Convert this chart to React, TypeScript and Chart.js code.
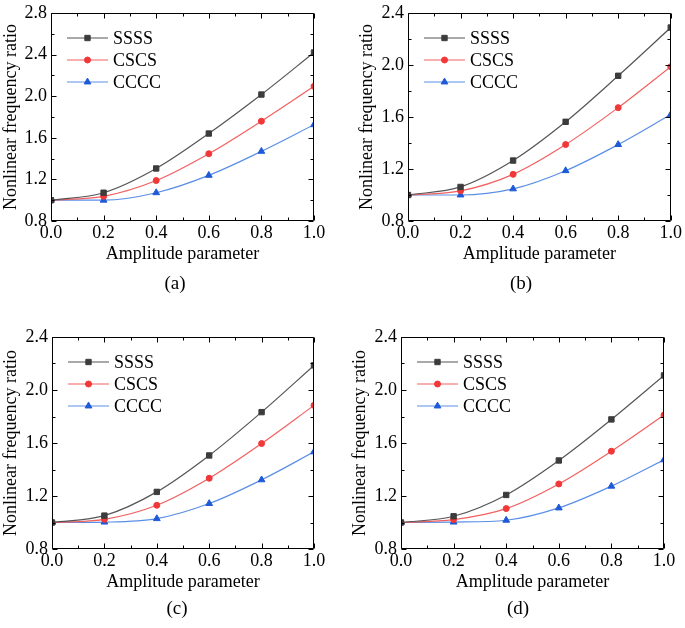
import React, { useEffect, useRef } from 'react';
import { Chart, registerables } from 'chart.js';
import { drawPoint } from 'chart.js/helpers';

Chart.register(...registerables);

// ---------- data ----------
const amplitude = [0, 0.2, 0.4, 0.6, 0.8, 1.0];
const seriesLabels = ['SSSS', 'CSCS', 'CCCC'];
const xTickValues = [0, 0.2, 0.4, 0.6, 0.8, 1.0];
const yTicksA = [0.8, 1.2, 1.6, 2.0, 2.4, 2.8];
const yTicksBCD = [0.8, 1.2, 1.6, 2.0, 2.4];
const panelLabels = ['(a)', '(b)', '(c)', '(d)'];

const ssssA = [1.0, 1.072, 1.305, 1.641, 2.016, 2.42];
const cscsA = [1.0, 1.037, 1.189, 1.447, 1.76, 2.095];
const ccccA = [1.0, 1.0, 1.072, 1.239, 1.47, 1.726];

const ssssB = [1.0, 1.062, 1.265, 1.563, 1.917, 2.288];
const cscsB = [1.0, 1.032, 1.159, 1.388, 1.672, 1.987];
const ccccB = [1.0, 1.0, 1.047, 1.187, 1.388, 1.619];

const ssssC = [1.0, 1.052, 1.231, 1.506, 1.833, 2.186];
const cscsC = [1.0, 1.024, 1.13, 1.334, 1.596, 1.884];
const ccccC = [1.0, 1.003, 1.029, 1.143, 1.322, 1.533];

const ssssD = [1.0, 1.047, 1.208, 1.468, 1.778, 2.11];
const cscsD = [1.0, 1.022, 1.105, 1.291, 1.538, 1.811];
const ccccD = [1.0, 1.003, 1.017, 1.11, 1.274, 1.473];

// ---------- styles ----------
const FONT = "'Liberation Serif', 'Times New Roman', serif";
const lineColors = ['#555555', '#f26060', '#5a8fe6'];
const markerColors = ['#3c3c3c', '#f03838', '#1f5ad6'];
const markerStyles = ['rect', 'circle', 'triangle'];
const markerRadius = [3.8, 3.0, 3.9];

type PanelCfg = {
  label: string;
  labelX: number;
  labelY: number;
  left: number;
  top: number;
  w: number;
  h: number;
  areaLeft: number; // relative to canvas
  areaTop: number;
  areaRight: number;
  areaBottom: number;
  yTicks: number[];
  series: number[][];
};

const panels: PanelCfg[] = [
  { label: panelLabels[0], labelX: 175, labelY: 282, left: 0, top: 0, w: 340, h: 300, areaLeft: 51, areaTop: 10, areaRight: 314, areaBottom: 221, yTicks: yTicksA, series: [ssssA, cscsA, ccccA] },
  { label: panelLabels[1], labelX: 521, labelY: 282, left: 356, top: 0, w: 329, h: 300, areaLeft: 52, areaTop: 10, areaRight: 315, areaBottom: 221, yTicks: yTicksBCD, series: [ssssB, cscsB, ccccB] },
  { label: panelLabels[2], labelX: 177, labelY: 607, left: 0, top: 320, w: 340, h: 308, areaLeft: 52, areaTop: 17, areaRight: 314, areaBottom: 229, yTicks: yTicksBCD, series: [ssssC, cscsC, ccccC] },
  { label: panelLabels[3], labelX: 518, labelY: 607, left: 349, top: 320, w: 336, h: 308, areaLeft: 52, areaTop: 17, areaRight: 315, areaBottom: 229, yTicks: yTicksBCD, series: [ssssD, cscsD, ccccD] },
];

function midpoints(arr: number[]) {
  const out: number[] = [];
  for (let i = 0; i < arr.length - 1; i++) out.push((arr[i] + arr[i + 1]) / 2);
  return out;
}

const frameTicksPlugin = {
  id: 'frameTicks',
  afterDatasetsDraw(chart: any) {
    const { ctx, chartArea, scales } = chart;
    const { left, right, top, bottom } = chartArea;
    const xs = scales.x;
    const ys = scales.y;
    const yMajor: number[] = chart.options.plugins.frameTicks.yTicks;
    const L = Math.round(left) + 0.5;
    const R = Math.round(right) - 0.5;
    const T = Math.round(top) + 0.5;
    const B = Math.round(bottom) - 0.5;
    ctx.save();
    ctx.strokeStyle = '#000';
    ctx.lineWidth = 1;
    ctx.beginPath();
    ctx.rect(L, T, R - L, B - T);
    ctx.stroke();
    const seg = (x1: number, y1: number, x2: number, y2: number) => {
      ctx.moveTo(x1, y1);
      ctx.lineTo(x2, y2);
    };
    ctx.beginPath();
    const major = 5;
    const minor = 3;
    for (const v of xTickValues) {
      const p = Math.round(xs.getPixelForValue(v)) + 0.5;
      seg(p, B, p, B - major);
      seg(p, T, p, T + major);
    }
    for (const v of midpoints(xTickValues)) {
      const p = Math.round(xs.getPixelForValue(v)) + 0.5;
      seg(p, B, p, B - minor);
      seg(p, T, p, T + minor);
    }
    for (const v of yMajor) {
      const p = Math.round(ys.getPixelForValue(v)) + 0.5;
      seg(L, p, L + major, p);
      seg(R, p, R - major, p);
    }
    for (const v of midpoints(yMajor)) {
      const p = Math.round(ys.getPixelForValue(v)) + 0.5;
      seg(L, p, L + minor, p);
      seg(R, p, R - minor, p);
    }
    ctx.stroke();
    ctx.restore();
  },
  afterDraw(chart: any) {
    const { ctx, chartArea } = chart;
    const { left, top } = chartArea;
    ctx.save();
    chart.data.datasets.forEach((ds: any, i: number) => {
      const yy = top + 25 + i * 22;
      ctx.strokeStyle = ds.borderColor;
      ctx.lineWidth = 1.2;
      ctx.beginPath();
      ctx.moveTo(left + 16, yy);
      ctx.lineTo(left + 57, yy);
      ctx.stroke();
      ctx.fillStyle = ds.pointBackgroundColor;
      ctx.strokeStyle = ds.pointBorderColor;
      ctx.lineWidth = 1;
      drawPoint(ctx, { pointStyle: ds.pointStyle, radius: ds.pointRadius, rotation: 0, borderWidth: 1 } as any, left + 36.5, yy);
      ctx.fillStyle = '#000';
      ctx.font = `18px ${FONT}`;
      ctx.textBaseline = 'middle';
      ctx.textAlign = 'left';
      ctx.fillText(ds.label, left + 62, yy + 1);
    });
    ctx.restore();
  },
};

function Panel({ cfg }: { cfg: PanelCfg }) {
  const ref = useRef<HTMLCanvasElement>(null);
  useEffect(() => {
    if (!ref.current) return;
    const yMin = cfg.yTicks[0];
    const yMax = cfg.yTicks[cfg.yTicks.length - 1];
    const tickFont = { family: FONT, size: 18, lineHeight: 1 };
    const titleFont = { family: FONT, size: 18, lineHeight: 1.2 };
    const chart = new Chart(ref.current, {
      type: 'line',
      data: {
        datasets: cfg.series.map((vals, i) => ({
          label: seriesLabels[i],
          data: amplitude.map((a, j) => ({ x: a, y: vals[j] })),
          borderColor: lineColors[i],
          backgroundColor: markerColors[i],
          pointBackgroundColor: markerColors[i],
          pointBorderColor: markerColors[i],
          pointStyle: markerStyles[i],
          pointRadius: markerRadius[i],
          pointBorderWidth: 1,
          borderWidth: 1.2,
          cubicInterpolationMode: 'monotone',
          fill: false,
        })),
      },
      options: {
        animation: false,
        responsive: false,
        maintainAspectRatio: false,
        events: [],
        layout: {
          padding: { left: 0, top: cfg.areaTop, right: cfg.w - cfg.areaRight, bottom: 0 },
        },
        plugins: {
          legend: { display: false },
          tooltip: { enabled: false },
          frameTicks: { yTicks: cfg.yTicks },
        } as any,
        scales: {
          x: {
            type: 'linear',
            min: 0,
            max: 1,
            afterFit: (s: any) => {
              s.height = cfg.h - cfg.areaBottom;
            },
            afterBuildTicks: (s: any) => {
              s.ticks = xTickValues.map((v) => ({ value: v }));
            },
            ticks: {
              callback: (v: any) => Number(v).toFixed(1),
              padding: 3,
              font: tickFont,
              color: '#000',
              maxRotation: 0,
              autoSkip: false,
            },
            grid: { display: false, drawTicks: false },
            border: { display: false },
            title: {
              display: true,
              text: 'Amplitude parameter',
              font: titleFont,
              color: '#000',
              padding: { top: 0, bottom: 35 },
            },
          },
          y: {
            type: 'linear',
            min: yMin,
            max: yMax,
            afterFit: (s: any) => {
              s.width = cfg.areaLeft;
            },
            afterBuildTicks: (s: any) => {
              s.ticks = cfg.yTicks.map((v) => ({ value: v }));
            },
            ticks: {
              callback: (v: any) => Number(v).toFixed(1),
              padding: 4,
              font: tickFont,
              color: '#000',
              autoSkip: false,
            },
            grid: { display: false, drawTicks: false },
            border: { display: false },
            title: {
              display: true,
              text: 'Nonlinear frequency ratio',
              font: titleFont,
              color: '#000',
              padding: { top: 0, bottom: 0 },
            },
          },
        },
      } as any,
      plugins: [frameTicksPlugin],
    });
    return () => chart.destroy();
  }, []);
  return (
    <>
      <div style={{ position: 'absolute', left: cfg.left, top: cfg.top, width: cfg.w, height: cfg.h }}>
        <canvas ref={ref} width={cfg.w} height={cfg.h} style={{ width: cfg.w, height: cfg.h, display: 'block' }} />
      </div>
      <div
        style={{
          position: 'absolute',
          left: cfg.labelX,
          top: cfg.labelY,
          transform: 'translate(-50%, -50%)',
          fontFamily: FONT,
          fontSize: 19,
          color: '#000',
          whiteSpace: 'nowrap',
          lineHeight: 1,
        }}
      >
        {cfg.label}
      </div>
    </>
  );
}

export default function App() {
  return (
    <div style={{ position: 'absolute', left: 0, top: 0, width: 685, height: 628, background: '#fff', overflow: 'hidden' }}>
      {panels.map((p) => (
        <Panel key={p.label} cfg={p} />
      ))}
    </div>
  );
}
